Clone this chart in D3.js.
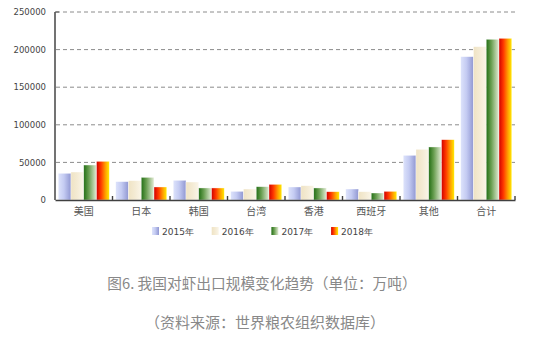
<!DOCTYPE html>
<html>
<head>
<meta charset="utf-8">
<script src="https://cdn.jsdelivr.net/npm/d3@7/dist/d3.min.js"></script>
<style>
  html, body { margin: 0; padding: 0; background: #fff; }
  svg { display: block; }
</style>
</head>
<body>
<svg id="chart" width="542" height="344"></svg>
<script>
// Shrimp export volume by destination, 2015–2018
const categories = ["美国", "日本", "韩国", "台湾", "香港", "西班牙", "其他", "合计"];
const years = ["2015年", "2016年", "2017年", "2018年"];
const v2015 = [35500, 24400, 26200, 11500, 17300, 14600, 59400, 190600];
const v2016 = [37200, 25700, 23900, 14600, 19000, 11000, 67400, 203900];
const v2017 = [46500, 30100, 16000, 17700, 16000, 9300, 70500, 213700];
const v2018 = [51400, 17300, 16000, 20800, 11000, 11500, 80200, 215000];
const yTicks = [0, 50000, 100000, 150000, 200000, 250000];
const captionText = "图6. 我国对虾出口规模变化趋势（单位：万吨）";
const sourceText = "（资料来源：世界粮农组织数据库）";

const series = [v2015, v2016, v2017, v2018];

// horizontal gradient stops for each year's bars
const gradients = [
  [["0%", "#dde3fb"], ["45%", "#c4cbf2"], ["100%", "#9097d2"]],
  [["0%", "#efe3c4"], ["50%", "#f4ebd4"], ["100%", "#faf5e8"]],
  [["0%", "#226e14"], ["40%", "#6a9f52"], ["100%", "#e3ecd6"]],
  [["0%", "#d00000"], ["35%", "#ff3a00"], ["70%", "#ffa000"], ["100%", "#ffec00"]]
];

const svg = d3.select("#chart");
const defs = svg.append("defs");
gradients.forEach((stops, i) => {
  const g = defs.append("linearGradient")
    .attr("id", "grad" + i)
    .attr("x1", "0%").attr("x2", "100%").attr("y1", "0%").attr("y2", "0%");
  stops.forEach(([o, c]) => g.append("stop").attr("offset", o).attr("stop-color", c));
});

const plotLeft = 55, plotRight = 515, plotTop = 12, plotBottom = 200;
const numFont = "DejaVu Sans, Verdana, sans-serif";
const cjkFont = "'Noto Sans CJK SC', sans-serif";

const x0 = d3.scaleBand().domain(categories).range([plotLeft, plotRight]).padding(0);
const bw = x0.bandwidth();
const x1 = d3.scaleBand().domain(d3.range(years.length)).range([bw * 0.056, bw * 0.944]).padding(0);
const y = d3.scaleLinear().domain([0, 250000]).range([plotBottom, plotTop]);

// dashed gridlines
svg.append("g").selectAll("line")
  .data(yTicks.filter(t => t > 0))
  .join("line")
  .attr("x1", plotLeft + 1).attr("x2", plotRight)
  .attr("y1", d => y(d)).attr("y2", d => y(d))
  .attr("stroke", "#8c8c8c").attr("stroke-width", 1)
  .attr("stroke-dasharray", "4,3");

// y axis labels
const yAxis = d3.axisLeft(y).tickValues(yTicks).tickSize(0).tickPadding(9).tickFormat(d3.format("d"));
const ya = svg.append("g").attr("transform", `translate(${plotLeft},0)`).call(yAxis);
ya.select(".domain").remove();
ya.selectAll("text").attr("font-family", numFont).attr("font-size", 8.5).attr("fill", "#444");

// bars
const groups = svg.append("g").selectAll("g")
  .data(categories)
  .join("g")
  .attr("transform", d => `translate(${x0(d)},0)`);

groups.selectAll("rect")
  .data((d, ci) => series.map((s, si) => ({ si, value: s[ci] })))
  .join("rect")
  .attr("x", d => x1(d.si))
  .attr("width", x1.bandwidth())
  .attr("y", d => y(d.value))
  .attr("height", d => y(0) - y(d.value))
  .attr("fill", d => `url(#grad${d.si})`)
  .attr("stroke", "#ffffff")
  .attr("stroke-opacity", 0.6)
  .attr("stroke-width", 0.6);

// axes lines
svg.append("line")
  .attr("x1", plotLeft).attr("x2", plotLeft).attr("y1", plotTop).attr("y2", plotBottom)
  .attr("stroke", "#505050").attr("stroke-width", 1.6);
svg.append("line")
  .attr("x1", plotLeft).attr("x2", plotLeft + 4).attr("y1", plotTop).attr("y2", plotTop)
  .attr("stroke", "#505050").attr("stroke-width", 1);

const xAxis = d3.axisBottom(x0).tickSize(0).tickPadding(8);
const xa = svg.append("g").attr("transform", `translate(0,${plotBottom})`).call(xAxis);
xa.select(".domain").attr("stroke", "#404040").attr("stroke-width", 1.6);
xa.selectAll("text").attr("font-family", cjkFont).attr("font-size", 10).attr("fill", "#555");

// boundary tick marks between categories
svg.append("g").selectAll("line")
  .data(categories.slice(1).concat(["__end"]))
  .join("line")
  .attr("x1", d => d === "__end" ? plotRight : x0(d))
  .attr("x2", d => d === "__end" ? plotRight : x0(d))
  .attr("y1", plotBottom).attr("y2", plotBottom - 4)
  .attr("stroke", "#404040").attr("stroke-width", 1.4);

// legend
const legend = svg.append("g").selectAll("g")
  .data(years)
  .join("g")
  .attr("transform", (d, i) => `translate(${152 + i * 59.7},227)`);
legend.append("rect")
  .attr("width", 7).attr("height", 8)
  .attr("fill", (d, i) => `url(#grad${i})`);
legend.append("text")
  .attr("x", 10).attr("y", 7.5)
  .attr("font-family", numFont).attr("font-size", 9).attr("fill", "#444")
  .text(d => d);

// caption and source
svg.append("text")
  .attr("x", 262).attr("y", 289)
  .attr("text-anchor", "middle")
  .attr("font-family", cjkFont).attr("font-size", 14.7).attr("fill", "#888")
  .text(captionText);
svg.append("text")
  .attr("x", 265).attr("y", 328)
  .attr("text-anchor", "middle")
  .attr("font-family", cjkFont).attr("font-size", 15).attr("fill", "#888")
  .text(sourceText);
</script>
</body>
</html>
